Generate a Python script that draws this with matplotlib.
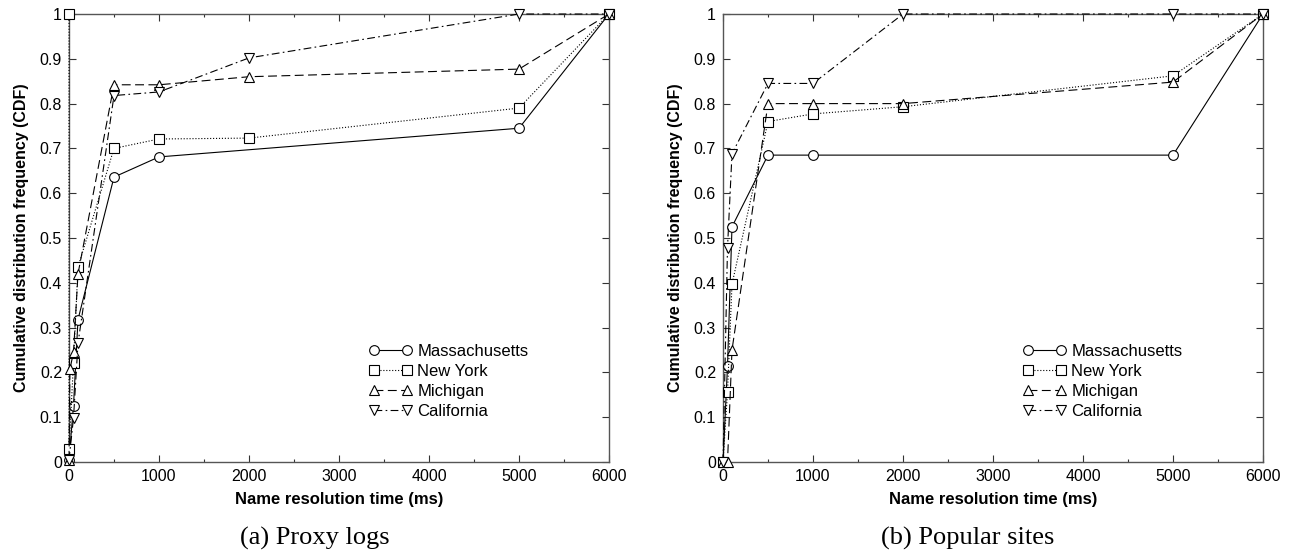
import numpy as np
import matplotlib
matplotlib.use('Agg')
import matplotlib.pyplot as plt
from matplotlib.ticker import MultipleLocator

plt.rcParams['font.family'] = ['Liberation Sans', 'DejaVu Sans']

# (a) Proxy logs
a_mass_x = [0, 50, 100, 500, 1000, 5000, 6000]
a_mass_y = [0.005, 0.126, 0.318, 0.636, 0.681, 0.745, 1.0]
a_ny_x = [0, 0, 50, 100, 500, 1000, 2000, 5000, 6000]
a_ny_y = [1.0, 0.028, 0.222, 0.435, 0.700, 0.721, 0.723, 0.790, 1.0]
a_mich_x = [0, 10, 50, 100, 500, 1000, 2000, 5000, 6000]
a_mich_y = [0.005, 0.207, 0.245, 0.420, 0.842, 0.842, 0.860, 0.877, 1.0]
a_cal_x = [0, 50, 100, 500, 1000, 2000, 5000, 6000]
a_cal_y = [0.005, 0.098, 0.265, 0.818, 0.826, 0.902, 1.0, 1.0]

# (b) Popular sites
b_mass_x = [0, 50, 100, 500, 1000, 5000, 6000]
b_mass_y = [0.0, 0.214, 0.525, 0.685, 0.685, 0.685, 1.0]
b_ny_x = [0, 50, 100, 500, 1000, 2000, 5000, 6000]
b_ny_y = [0.0, 0.156, 0.397, 0.760, 0.777, 0.793, 0.862, 1.0]
b_mich_x = [0, 50, 100, 500, 1000, 2000, 5000, 6000]
b_mich_y = [0.0, 0.0, 0.250, 0.800, 0.800, 0.800, 0.848, 1.0]
b_cal_x = [0, 50, 100, 500, 1000, 2000, 5000, 6000]
b_cal_y = [0.0, 0.478, 0.688, 0.845, 0.845, 1.0, 1.0, 1.0]

labels = ['Massachusetts', 'New York', 'Michigan', 'California']
markers = ['o', 's', '^', 'v']
styles = ['-', ':', (0, (8, 4)), (0, (7, 3, 1.5, 3))]
captions = ['(a) Proxy logs', '(b) Popular sites']
caption_x = [315, 968]

panels = [
    [(a_mass_x, a_mass_y), (a_ny_x, a_ny_y), (a_mich_x, a_mich_y), (a_cal_x, a_cal_y)],
    [(b_mass_x, b_mass_y), (b_ny_x, b_ny_y), (b_mich_x, b_mich_y), (b_cal_x, b_cal_y)],
]

fig = plt.figure(figsize=(12.9, 5.56), dpi=100)
lefts = [69 / 1290, 723 / 1290]
for i, series in enumerate(panels):
    ax = fig.add_axes([lefts[i], 94 / 556, 540 / 1290, 448 / 556])
    for (x, y), lab, m, ls in zip(series, labels, markers, styles):
        ax.plot(x, y, color='black', linestyle=ls, linewidth=0.8, marker=m,
                markersize=7, markerfacecolor='white', markeredgecolor='black',
                markeredgewidth=0.8, label=lab, clip_on=False, zorder=3)
    ax.set_xlim(0, 6000)
    ax.set_ylim(0, 1)
    ax.xaxis.set_major_locator(MultipleLocator(1000))
    ax.xaxis.set_minor_locator(MultipleLocator(500))
    ax.set_yticks(np.arange(0, 1.01, 0.1))
    ax.set_yticklabels(['0', '0.1', '0.2', '0.3', '0.4', '0.5', '0.6', '0.7', '0.8', '0.9', '1'])
    ax.tick_params(which='both', direction='in', top=True, right=True, labelsize=11.5,
                   color='#333333', pad=5)
    ax.tick_params(which='major', length=5, width=0.8)
    ax.tick_params(which='minor', length=2.5, width=0.8)
    for s in ax.spines.values():
        s.set_color('#555555')
        s.set_linewidth(1.0)
    ax.set_xlabel('Name resolution time (ms)', fontsize=12, fontweight='bold', labelpad=6)
    ax.set_ylabel('Cumulative distribution frequency (CDF)', fontsize=11.5,
                  fontweight='bold', labelpad=8)
    ax.legend(loc='lower left', bbox_to_anchor=(0.528, 0.063), frameon=False, numpoints=2,
              handlelength=2.6, fontsize=12, labelspacing=0.3, handletextpad=0.3)
    fig.text(caption_x[i] / 1290, 18 / 556, captions[i],
             ha='center', va='center', fontsize=19, family=['Liberation Serif'])

fig.savefig('out.png', dpi=100)
